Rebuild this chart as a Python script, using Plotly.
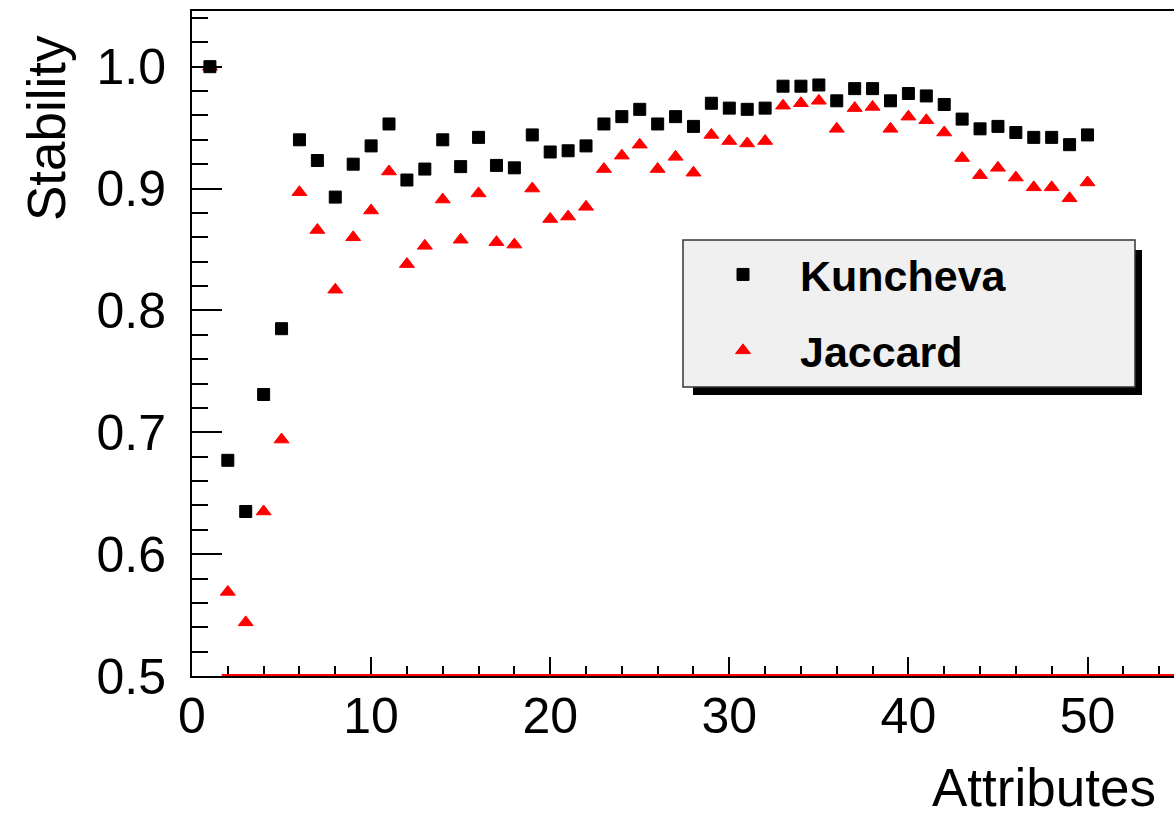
import plotly.graph_objects as go

# ---- data ----
attributes = list(range(1, 51))
kuncheva = [1.000, 0.677, 0.635, 0.731, 0.785, 0.940, 0.923, 0.893, 0.920, 0.935,
            0.953, 0.907, 0.916, 0.940, 0.918, 0.942, 0.919, 0.917, 0.944, 0.930,
            0.931, 0.935, 0.953, 0.959, 0.965, 0.953, 0.959, 0.951, 0.970, 0.966,
            0.965, 0.966, 0.984, 0.984, 0.985, 0.972, 0.982, 0.982, 0.972, 0.978,
            0.976, 0.969, 0.957, 0.949, 0.951, 0.946, 0.942, 0.942, 0.936, 0.944]
jaccard = [1.000, 0.569, 0.544, 0.635, 0.694, 0.897, 0.866, 0.817, 0.860, 0.882,
           0.914, 0.838, 0.853, 0.891, 0.858, 0.896, 0.856, 0.854, 0.900, 0.875,
           0.877, 0.885, 0.916, 0.927, 0.936, 0.916, 0.926, 0.913, 0.944, 0.939,
           0.937, 0.939, 0.968, 0.970, 0.972, 0.949, 0.966, 0.967, 0.949, 0.959,
           0.956, 0.946, 0.925, 0.911, 0.917, 0.909, 0.901, 0.901, 0.892, 0.905]
series_names = ["Kuncheva", "Jaccard"]
red_line_x = [1.66, 55.0]
red_line_y = [0.5, 0.5]

x_range = [0, 54.83]
y_range = [0.5, 1.0457]

# ---- layout geometry (pixels) ----
W, H = 1174, 816
L, R, T, B = 192, 0, 11, 140
PW, PH = W - L - R, H - T - B


def xp(px):
    return (px - L) / PW


def yp(py):
    return (H - B - py) / PH


FONT = "Liberation Sans, Arial, Helvetica, sans-serif"

fig = go.Figure()
fig.add_trace(go.Scatter(
    x=attributes, y=jaccard, mode="markers", name=series_names[1],
    marker=dict(symbol="triangle-up", size=13, color="#ff0000",
                line=dict(color="#ff0000", width=1)),
    legendgroup="j", legendrank=2, cliponaxis=False,
))
fig.add_trace(go.Scatter(
    x=attributes, y=kuncheva, mode="markers", name=series_names[0],
    marker=dict(symbol="square", size=12, color="#000000",
                line=dict(color="#000000", width=1)),
    legendgroup="k", legendrank=1, cliponaxis=False,
))

axis_common = dict(
    showgrid=False, zeroline=False, showline=True, linecolor="black",
    linewidth=2, ticks="inside", tickcolor="black", tickwidth=1.5,
    tickfont=dict(family=FONT, size=50, color="black"),
)

fig.update_xaxes(
    range=x_range, tickmode="linear", tick0=0, dtick=10, ticklen=19,
    minor=dict(dtick=2, tick0=0, ticklen=10, ticks="inside",
               tickcolor="black", tickwidth=1.5),
    mirror=True, ticklabelstandoff=-5,
    **axis_common,
)
fig.update_yaxes(
    range=y_range, tickmode="linear", tick0=0.5, dtick=0.1, ticklen=30,
    tickformat=".1f",
    minor=dict(dtick=0.02, tick0=0.5, ticklen=16, ticks="inside",
               tickcolor="black", tickwidth=1.5),
    mirror=False, ticklabelstandoff=14,
    **axis_common,
)

shapes = [
    # red line along the x axis
    dict(type="line", xref="x", yref="y", x0=red_line_x[0], x1=red_line_x[1],
         y0=red_line_y[0], y1=red_line_y[1], line=dict(color="#ff0000", width=4),
         layer="above"),
    # legend shadow
    dict(type="rect", xref="paper", yref="paper", x0=xp(693), x1=xp(1142),
         y0=yp(395), y1=yp(250), fillcolor="black", line=dict(width=0),
         layer="above"),
    # legend box
    dict(type="rect", xref="paper", yref="paper", x0=xp(683), x1=xp(1135),
         y0=yp(387), y1=yp(240), fillcolor="#f0f0f0",
         line=dict(color="#333333", width=1.5), layer="above"),
]

annotations = [
    dict(text="Attributes", xref="paper", yref="paper", x=xp(1158), y=yp(787),
         xanchor="right", yanchor="middle", showarrow=False,
         font=dict(family=FONT, size=53, color="black")),
    dict(text="Stability", xref="paper", yref="paper", x=xp(46), y=yp(128),
         xanchor="center", yanchor="middle", showarrow=False, textangle=-90,
         font=dict(family=FONT, size=53, color="black")),
]

fig.update_layout(
    width=W, height=H,
    margin=dict(l=L, r=R, t=T, b=B, pad=0),
    paper_bgcolor="white", plot_bgcolor="white",
    showlegend=True,
    legend=dict(
        x=xp(686), y=yp(240), xanchor="left", yanchor="top",
        bgcolor="rgba(0,0,0,0)", borderwidth=0,
        font=dict(family=FONT, size=43, color="black", weight="bold"),
        itemwidth=104, tracegroupgap=17, traceorder="grouped",
        itemsizing="trace",
    ),
    shapes=shapes,
    annotations=annotations,
)

fig.write_html("out.html")
